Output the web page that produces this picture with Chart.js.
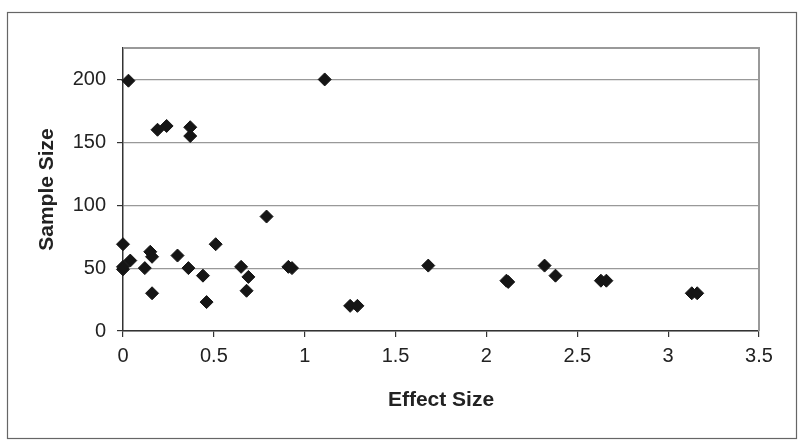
<!DOCTYPE html>
<html>
<head>
<meta charset="utf-8">
<script src="https://cdn.jsdelivr.net/npm/chart.js@4/dist/chart.umd.min.js"></script>
<style>
  html, body { margin: 0; padding: 0; background: #fff; }
  #wrap { width: 800px; height: 446px; }
</style>
</head>
<body>
<div id="wrap"><canvas id="c" width="800" height="446"></canvas></div>
<script>
const effectSize = [0.00, 0.00, 0.00, 0.04, 0.03, 0.12, 0.15, 0.16, 0.16, 0.19, 0.24, 0.30,
                    0.36, 0.37, 0.37, 0.44, 0.46, 0.51, 0.65, 0.69, 0.68, 0.79, 0.91, 0.93,
                    1.11, 1.25, 1.29, 1.68, 2.11, 2.12, 2.32, 2.38, 2.63, 2.66, 3.13, 3.16];
const sampleSize = [69, 49, 51, 56, 199, 50, 63, 59, 30, 160, 163, 60,
                    50, 162, 155, 44, 23, 69, 51, 43, 32, 91, 51, 50,
                    200, 20, 20, 52, 40, 39, 52, 44, 40, 40, 30, 30];
const xTicks = [0, 0.5, 1, 1.5, 2, 2.5, 3, 3.5];
const yTicks = [0, 50, 100, 150, 200];
const xTitle = 'Effect Size';
const yTitle = 'Sample Size';

const points = effectSize.map((x, i) => ({ x: x, y: sampleSize[i] }));

const frame = {
  id: 'frame',
  beforeDraw(chart) {
    const ctx = chart.ctx;
    ctx.save();
    ctx.fillStyle = '#fff';
    ctx.fillRect(0, 0, chart.width, chart.height);
    ctx.restore();
  },
  beforeDatasetsDraw(chart) {
    const { ctx, chartArea: a } = chart;
    ctx.save();
    ctx.strokeStyle = '#999';
    ctx.lineWidth = 2;
    ctx.beginPath();
    ctx.moveTo(a.left, a.top);
    ctx.lineTo(a.right, a.top);
    ctx.lineTo(a.right, a.bottom);
    ctx.stroke();
    ctx.restore();
  },
  afterDraw(chart) {
    const ctx = chart.ctx;
    ctx.save();
    ctx.strokeStyle = '#666';
    ctx.lineWidth = 1.2;
    ctx.strokeRect(7.5, 12.5, 789, 426);
    ctx.restore();
  }
};

new Chart(document.getElementById('c'), {
  type: 'scatter',
  data: {
    datasets: [{
      data: points,
      clip: false,
      pointStyle: 'rectRot',
      pointRadius: 6.5,
      pointHoverRadius: 6.5,
      backgroundColor: '#151515',
      borderColor: '#151515',
      borderWidth: 1
    }]
  },
  options: {
    responsive: false,
    animation: false,
    events: [],
    layout: { padding: { left: 0, right: 41, top: 48, bottom: 0 } },
    plugins: { legend: { display: false }, tooltip: { enabled: false } },
    scales: {
      x: {
        type: 'linear',
        min: 0, max: 3.5,
        afterBuildTicks(scale) { scale.ticks = xTicks.map(v => ({ value: v })); },
        afterFit(scale) { scale.height = 115; },
        grid: { drawOnChartArea: false, drawTicks: true, tickLength: 6, tickColor: '#333', lineWidth: 1.2 },
        border: { color: '#333', width: 1.5 },
        ticks: {
          padding: 7,
          color: '#222',
          font: { family: "'Liberation Sans', Arial, sans-serif", size: 20 },
          maxRotation: 0,
          callback: v => String(v)
        },
        title: {
          display: true, text: xTitle, color: '#222',
          font: { family: "'Liberation Sans', Arial, sans-serif", size: 21, weight: 'bold' },
          padding: { top: 0, bottom: 33 }
        }
      },
      y: {
        type: 'linear',
        min: 0, max: 225,
        afterBuildTicks(scale) { scale.ticks = yTicks.map(v => ({ value: v })); },
        afterFit(scale) { scale.width = 123; },
        grid: { color: '#999', lineWidth: 1.2, tickLength: 6, tickColor: '#333' },
        border: { color: '#333', width: 1.5 },
        ticks: {
          padding: 11,
          color: '#222',
          font: { family: "'Liberation Sans', Arial, sans-serif", size: 20 },
          callback: v => String(v)
        },
        title: {
          display: true, text: yTitle, color: '#222',
          font: { family: "'Liberation Sans', Arial, sans-serif", size: 21, weight: 'bold' },
          padding: { top: 35, bottom: 0 }
        }
      }
    }
  },
  plugins: [frame]
});
</script>
</body>
</html>
